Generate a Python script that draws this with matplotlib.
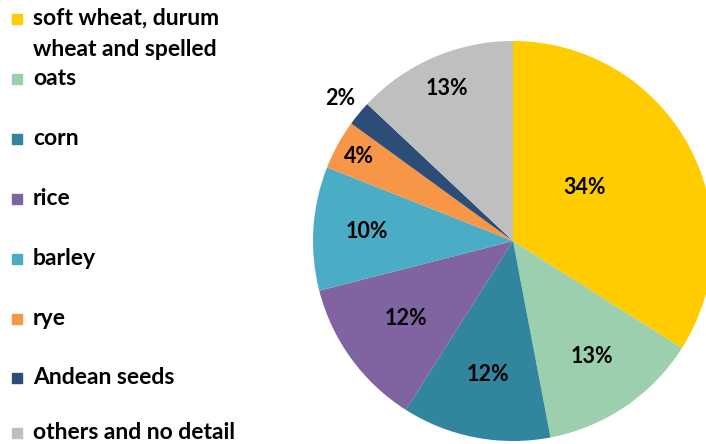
import numpy as np
import matplotlib.pyplot as plt
from matplotlib.patches import Rectangle

labels = ["soft wheat, durum\nwheat and spelled", "oats", "corn", "rice",
          "barley", "rye", "Andean seeds", "others and no detail"]
shares = [34, 13, 12, 12, 10, 4, 2, 13]
colors = ["#FFCC00", "#9BCFAE", "#31859C", "#8064A2",
          "#4BACC6", "#F79646", "#2C4D75", "#BFBFBF"]
# radial placement of each percentage (fraction of radius)
label_dist = [0.45, 0.70, 0.68, 0.66, 0.73, 0.88, 1.12, 0.83]
label_shift = [8, 0, 0, 0, 0, 0, 0, 0]  # degrees, counter-clockwise

plt.rcParams['font.family'] = ['Lato', 'DejaVu Sans']

W, H = 706, 444
fig = plt.figure(figsize=(W / 100, H / 100), dpi=100)

# pie: centre (513, 241) px, radius 200 px
cx, cy, r = 513, 241, 200
ax = fig.add_axes([(cx - r) / W, (H - cy - r) / H, 2 * r / W, 2 * r / H])
wedges, _ = ax.pie(shares, colors=colors, startangle=90, counterclock=False,
                   radius=1, wedgeprops=dict(linewidth=0))
ax.set_xlim(-1, 1)
ax.set_ylim(-1, 1)
ax.set_aspect("equal")

for w, s, d, sh in zip(wedges, shares, label_dist, label_shift):
    ang = np.deg2rad((w.theta1 + w.theta2) / 2 + sh)
    ax.text(d * np.cos(ang), d * np.sin(ang), f"{s}%", ha="center", va="center",
            fontsize=15.5, fontweight="bold", color="black")

# legend on the left
ys = [19, 79, 139, 199, 259, 319, 378, 433]
for y, lab, c in zip(ys, labels, colors):
    fig.patches.append(Rectangle((12 / W, 1 - (y + 5) / H), 10 / W, 10 / H,
                                 transform=fig.transFigure, color=c))
    fig.text(33 / W, 1 - (y - 11) / H, lab, ha="left", va="top",
             fontsize=16.5, fontweight="bold", linespacing=1.6)

fig.savefig("out.png", dpi=100)
